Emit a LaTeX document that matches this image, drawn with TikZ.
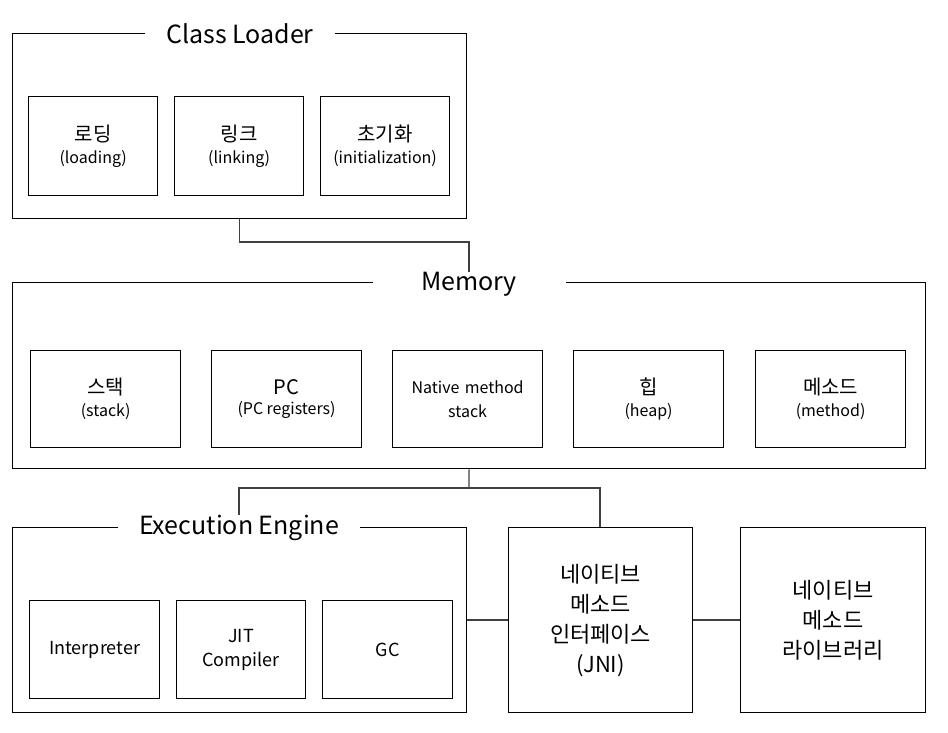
\documentclass[tikz,border=0pt]{standalone}
\usepackage{fontspec}
\setmainfont{Noto Sans CJK KR}
\begin{document}
\begin{tikzpicture}[x=1pt,y=-1pt,
  box/.style={draw=black,line width=1.2pt,inner sep=0pt,anchor=north west},
  inbox/.style={draw=black,line width=1.2pt,anchor=north west,align=center,inner sep=0pt},
  title/.style={fill=white,inner sep=0pt,font=\fontsize{25}{28}\selectfont},
  conn/.style={draw=black!75,line width=1.2pt}]
\useasboundingbox (0,0) rectangle (948,733);
\newcommand{\twoline}[2]{{\fontsize{20}{24}\selectfont #1}\\[6pt]{\fontsize{16}{20}\selectfont #2}}
% Class Loader
\node[box,minimum width=454pt,minimum height=185pt] (cl) at (12,33) {};
\node[title,minimum width=190pt,minimum height=20pt] (clt) at (240,34) {Class Loader};
\node[inbox,minimum width=129pt,minimum height=99pt,text width=129pt] (load) at (28,96) {\twoline{로딩}{(loading)}};
\node[inbox,minimum width=129pt,minimum height=99pt,text width=129pt] (link) at (174,96) {\twoline{링크}{(linking)}};
\node[inbox,minimum width=129pt,minimum height=99pt,text width=129pt] (init) at (320,96) {\twoline{초기화}{(initialization)}};
% Memory
\node[box,minimum width=913pt,minimum height=186pt] (mem) at (12,282) {};
\node[title,minimum width=193pt,minimum height=20pt] (memt) at (469,284) {Memory};
\node[inbox,minimum width=150pt,minimum height=97pt,text width=150pt] (stack) at (30,350) {\twoline{스택}{(stack)}};
\node[inbox,minimum width=150pt,minimum height=97pt,text width=150pt] (pc) at (211,350) {\twoline{PC}{(PC registers)}};
\node[inbox,minimum width=150pt,minimum height=97pt,text width=150pt,font=\fontsize{16}{24}\selectfont] (nms) at (392,350) {Native method\\stack};
\node[inbox,minimum width=150pt,minimum height=97pt,text width=150pt] (heap) at (573,350) {\twoline{힙}{(heap)}};
\node[inbox,minimum width=150pt,minimum height=97pt,text width=150pt] (meth) at (755,350) {\twoline{메소드}{(method)}};
% Execution Engine
\node[box,minimum width=454pt,minimum height=185pt] (ee) at (12,527) {};
\node[title,minimum width=242pt,minimum height=20pt] (eet) at (239,528) {Execution Engine};
\node[inbox,minimum width=130pt,minimum height=98pt,text width=130pt,font=\fontsize{18}{24}\selectfont] (interp) at (29,600) {Interpreter};
\node[inbox,minimum width=129pt,minimum height=98pt,text width=129pt,font=\fontsize{18}{24}\selectfont] (jit) at (176,600) {JIT\\Compiler};
\node[inbox,minimum width=130pt,minimum height=98pt,text width=130pt,font=\fontsize{18}{24}\selectfont] (gc) at (322,600) {GC};
% JNI and library
\node[inbox,minimum width=184pt,minimum height=185pt,text width=184pt,font=\fontsize{22}{30}\selectfont] (jni) at (508,527) {네이티브\\메소드\\인터페이스\\(JNI)};
\node[inbox,minimum width=185pt,minimum height=185pt,text width=185pt,font=\fontsize{22}{30}\selectfont] (lib) at (740,527) {네이티브\\메소드\\라이브러리};
% connectors
\coordinate (c2) at (469,488);
\draw[conn] (cl.south) |- (469,242) -- (memt.north);
\draw[conn] (mem.south) -- (c2);
\draw[conn] (c2) -| (eet.north);
\draw[conn] (c2) -| (600,527);
\draw[conn] (ee.east |- 0,620) -- (jni.west |- 0,620);
\draw[conn] (jni.east |- 0,620) -- (lib.west |- 0,620);
\end{tikzpicture}
\end{document}
